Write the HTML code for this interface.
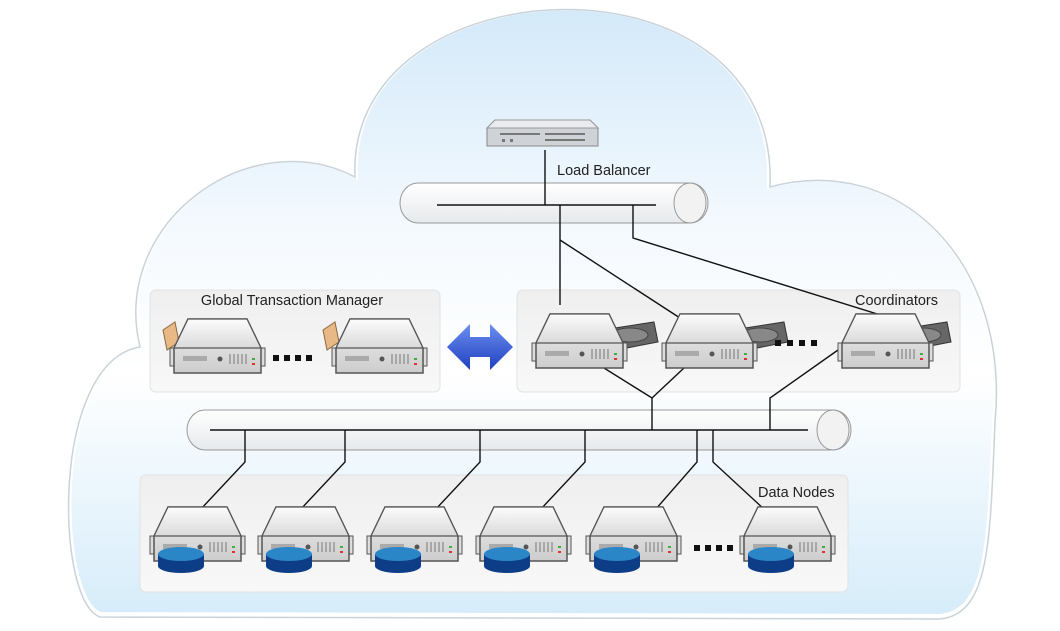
<!DOCTYPE html>
<html><head><meta charset="utf-8"><style>
html,body{margin:0;padding:0;background:#fff;width:1060px;height:631px;overflow:hidden}
svg{display:block}
text{font-family:"Liberation Sans",sans-serif;font-size:14.5px;fill:#222}
</style></head><body>
<svg width="1060" height="631" viewBox="0 0 1060 631" xmlns="http://www.w3.org/2000/svg">
<defs>
<linearGradient id="cg" x1="0" y1="0" x2="0" y2="1">
<stop offset="0" stop-color="#d3e9f9"/><stop offset="0.35" stop-color="#f3f9fe"/><stop offset="0.6" stop-color="#ffffff"/><stop offset="1" stop-color="#d6ecfa"/>
</linearGradient>
<linearGradient id="pg" x1="0" y1="0" x2="0" y2="1">
<stop offset="0" stop-color="#ffffff"/><stop offset="1" stop-color="#e6e9ec"/>
</linearGradient>
<linearGradient id="panel" x1="0" y1="0" x2="0" y2="1">
<stop offset="0" stop-color="#efefef"/><stop offset="1" stop-color="#f8f8f8"/>
</linearGradient>
<linearGradient id="top" x1="0" y1="0" x2="0" y2="1">
<stop offset="0" stop-color="#fcfcfc"/><stop offset="1" stop-color="#dadada"/>
</linearGradient>
<linearGradient id="front" x1="0" y1="0" x2="0" y2="1">
<stop offset="0" stop-color="#f0f0f0"/><stop offset="1" stop-color="#cdcdcd"/>
</linearGradient>
<linearGradient id="arr" x1="0" y1="0" x2="0" y2="1">
<stop offset="0" stop-color="#6b8ff0"/><stop offset="1" stop-color="#1f3fbf"/>
</linearGradient>
<g id="srv">
<rect x="0" y="30" width="6" height="18" fill="#ddd" stroke="#555" stroke-width="1"/>
<rect x="89" y="30" width="6" height="18" fill="#ddd" stroke="#555" stroke-width="1"/>
<path d="M18 1 L77 1 L91 30 L91 55 L4 55 L4 30 Z" fill="url(#front)" stroke="#555" stroke-width="1.5"/>
<path d="M18 1 L77 1 L91 30 L4 30 Z" fill="url(#top)" stroke="#555" stroke-width="1.2"/>
<rect x="13" y="38" width="24" height="5" fill="#aaa"/>
<circle cx="50" cy="41" r="2.5" fill="#555"/>
<g stroke="#777" stroke-width="1"><line x1="60" y1="36" x2="60" y2="46"/><line x1="64" y1="36" x2="64" y2="46"/><line x1="68" y1="36" x2="68" y2="46"/><line x1="72" y1="36" x2="72" y2="46"/><line x1="76" y1="36" x2="76" y2="46"/></g>
<rect x="82" y="40" width="3" height="2" fill="#4a4"/><rect x="82" y="45" width="3" height="2" fill="#d33"/>
</g>
<g id="db">
<path d="M0 6 L0 18 A23 7 0 0 0 46 18 L46 6 Z" fill="#0d3d86"/>
<ellipse cx="23" cy="6" rx="23" ry="7" fill="#2a86c7"/>
</g>
<g id="disk">
<path d="M0 8 L52 0 L56 20 L4 30 Z" fill="#666" stroke="#333"/>
<ellipse cx="28" cy="13" rx="18" ry="7" fill="#888" stroke="#444"/>
</g>
<g id="card"><path d="M0 8 L12 0 L16 20 L4 28 Z" fill="#e8b985" stroke="#8a6a44"/></g>
</defs>

<path id="cl" d="M100 615 C55 600 50 360 140 345 C110 220 250 120 355 175 C345 -40 780 -60 770 185 C900 150 1010 260 995 420 C990 540 990 612 940 617 Z" fill="url(#cg)" stroke="#fff" stroke-width="6"/>
<path d="M100 615 C55 600 50 360 140 345 C110 220 250 120 355 175 C345 -40 780 -60 770 185 C900 150 1010 260 995 420 C990 540 990 612 940 617 Z" fill="none" stroke="#c9d3da" stroke-width="1.5" transform="translate(0,2)"/>

<rect x="150" y="290" width="290" height="102" rx="6" fill="url(#panel)" stroke="#e2e2e2"/>
<rect x="517" y="290" width="443" height="102" rx="6" fill="url(#panel)" stroke="#e2e2e2"/>
<rect x="140" y="475" width="708" height="117" rx="6" fill="url(#panel)" stroke="#e2e2e2"/>

<path d="M418 183 L690 183 A18 20 0 0 1 690 223 L418 223 A18 20 0 0 1 418 183 Z" fill="url(#pg)" stroke="#999"/>
<ellipse cx="690" cy="203" rx="16" ry="20" fill="#f2f2f2" stroke="#999"/>
<path d="M205 410 L833 410 A18 20 0 0 1 833 450 L205 450 A18 20 0 0 1 205 410 Z" fill="url(#pg)" stroke="#999"/>
<ellipse cx="833" cy="430" rx="16" ry="20" fill="#f2f2f2" stroke="#999"/>

<path d="M495 120 L590 120 L598 128 L598 146 L487 146 L487 128 Z" fill="#cfd2d6" stroke="#888"/>
<path d="M495 120 L590 120 L598 128 L487 128 Z" fill="#e9ebee" stroke="#999"/>
<g fill="#777"><rect x="500" y="133" width="40" height="2"/><rect x="545" y="133" width="40" height="2"/><rect x="545" y="139" width="40" height="2"/><rect x="502" y="139" width="3" height="3"/><rect x="510" y="139" width="3" height="3"/></g>

<g stroke="#111" stroke-width="1.4" fill="none">
<line x1="437" y1="205" x2="656" y2="205"/>
<line x1="545" y1="150" x2="545" y2="205"/>
<polyline points="560,205 560,305"/>
<polyline points="560,240 680,318"/>
<polyline points="633,205 633,238 890,318"/>
<line x1="210" y1="430" x2="808" y2="430"/>
<polyline points="604,368 652,398 684,368"/>
<line x1="652" y1="398" x2="652" y2="430"/>
<polyline points="838,350 770,398 770,430"/>
<polyline points="245,430 245,462 200,510"/>
<polyline points="345,430 345,462 300,510"/>
<polyline points="480,430 480,462 435,510"/>
<polyline points="585,430 585,462 540,510"/>
<polyline points="697,430 697,462 655,510"/>
<polyline points="713,430 713,462 765,510"/>
</g>

<use href="#card" x="163" y="322"/>
<use href="#srv" x="170" y="318"/>
<use href="#card" x="323" y="322"/>
<use href="#srv" x="332" y="318"/>
<g fill="#111"><rect x="273" y="355" width="6" height="6"/><rect x="284" y="355" width="6" height="6"/><rect x="295" y="355" width="6" height="6"/><rect x="306" y="355" width="6" height="6"/></g>

<path d="M447 347 L470 324 L470 337 L490 337 L490 324 L513 347 L490 370 L490 357 L470 357 L470 370 Z" fill="url(#arr)"/>

<use href="#disk" x="602" y="322"/>
<use href="#srv" x="532" y="313"/>
<use href="#disk" x="732" y="322"/>
<use href="#srv" x="662" y="313"/>
<use href="#disk" x="895" y="322"/>
<use href="#srv" x="838" y="313"/>
<g fill="#111"><rect x="775" y="340" width="6" height="6"/><rect x="787" y="340" width="6" height="6"/><rect x="799" y="340" width="6" height="6"/><rect x="811" y="340" width="6" height="6"/></g>

<use href="#srv" x="150" y="506"/><use href="#db" x="158" y="548"/>
<use href="#srv" x="258" y="506"/><use href="#db" x="266" y="548"/>
<use href="#srv" x="367" y="506"/><use href="#db" x="375" y="548"/>
<use href="#srv" x="476" y="506"/><use href="#db" x="484" y="548"/>
<use href="#srv" x="586" y="506"/><use href="#db" x="594" y="548"/>
<use href="#srv" x="740" y="506"/><use href="#db" x="748" y="548"/>
<g fill="#111"><rect x="694" y="545" width="6" height="6"/><rect x="705" y="545" width="6" height="6"/><rect x="716" y="545" width="6" height="6"/><rect x="727" y="545" width="6" height="6"/></g>

<text x="557" y="175">Load Balancer</text>
<text x="292" y="305" text-anchor="middle">Global Transaction Manager</text>
<text x="938" y="305" text-anchor="end">Coordinators</text>
<text x="758" y="497">Data Nodes</text>
</svg>
</body></html>
